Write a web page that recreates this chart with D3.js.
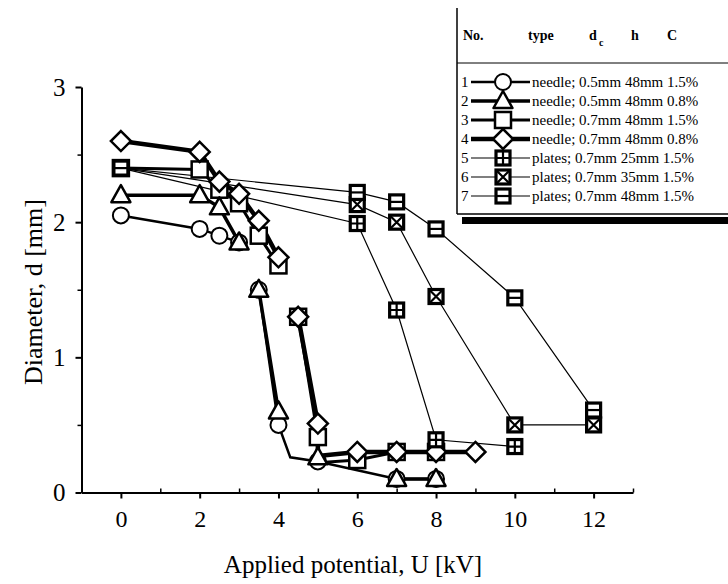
<!DOCTYPE html>
<html>
<head>
<meta charset="utf-8">
<script src="https://cdn.jsdelivr.net/npm/d3@7"></script>
<style>
body { margin: 0; background: #fff; }
svg { display: block; font-family: "Liberation Serif", "Times New Roman", serif; }
</style>
</head>
<body>
<div id="chart"></div>
<script>
const xTicks = [0, 2, 4, 6, 8, 10, 12];
const xMinor = [-1, 1, 3, 5, 7, 9, 11, 13];
const yTicks = [0, 1, 2, 3];
const yMinor = [0.5, 1.5, 2.5];

// [U, d] points, null breaks the line, a third value false = bend with no marker
const needle1 = [[0, 2.05], [2, 1.95], [2.5, 1.9], [3, 1.85], null, [3.5, 1.5], [4, 0.5], [4.3, 0.26, false], [5, 0.23], [7, 0.1], [8, 0.1]];
const needle2 = [[0, 2.2], [2, 2.2], [2.5, 2.11], [3, 1.85], null, [3.5, 1.5], [4, 0.6], null, [5, 0.26], null, [7, 0.1], [8, 0.1]];
const needle3 = [[0, 2.4], [2, 2.39], [2.5, 2.24], [3, 2.14], [3.5, 1.9], [4, 1.68], null, [4.5, 1.3], [5, 0.41], [5, 0.22, false], [6, 0.24], [7, 0.3], [8, 0.3]];
const needle4 = [[0, 2.6], [2, 2.52], [2.5, 2.3], [3, 2.21], [3.5, 2.01], [4, 1.74], null, [4.5, 1.3], [5, 0.51], [5, 0.27, false], [6, 0.3], [7, 0.3], [8, 0.3], [9, 0.3]];
const plates5 = [[0, 2.4], [6, 1.99], [7, 1.35], [8, 0.39], [10, 0.34]];
const plates6 = [[0, 2.4], [6, 2.13], [7, 2.0], [8, 1.45], [10, 0.5], [12, 0.5]];
const plates7 = [[0, 2.4], [6, 2.22], [7, 2.15], [8, 1.95], [10, 1.44], [12, 0.61]];

const legendNo = ['1', '2', '3', '4', '5', '6', '7'];
const legendText = [
  'needle; 0.5mm 48mm 1.5%',
  'needle; 0.5mm 48mm 0.8%',
  'needle; 0.7mm 48mm 1.5%',
  'needle; 0.7mm 48mm 0.8%',
  'plates; 0.7mm 25mm 1.5%',
  'plates; 0.7mm 35mm 1.5%',
  'plates; 0.7mm 48mm 1.5%'
];
const legendHead = ['No.', 'type', 'd', 'h', 'C'];

const width = 728;
const height = 584;

const series = [
  { data: plates5, marker: 'plus', lw: 1.2 },
  { data: plates6, marker: 'cross', lw: 1.2 },
  { data: plates7, marker: 'bar', lw: 1.2 },
  { data: needle3, marker: 'square', lw: 3 },
  { data: needle4, marker: 'diamond', lw: 4.5 },
  { data: needle1, marker: 'circle', lw: 2.5 },
  { data: needle2, marker: 'triangle', lw: 3.5 }
];
// legend order 1..7
const legendSeries = [series[5], series[6], series[3], series[4], series[0], series[1], series[2]];

const svg = d3.select('#chart').append('svg')
  .attr('width', width)
  .attr('height', height);

const x = d3.scaleLinear().domain([-1, 13]).range([81.5, 633]);
const y = d3.scaleLinear().domain([0, 3]).range([492.5, 87]);

function drawMarker(g, type) {
  g.attr('fill', '#fff').attr('stroke', '#000');
  if (type === 'circle') {
    g.append('circle').attr('r', 8).attr('stroke-width', 2);
  } else if (type === 'triangle') {
    g.append('path').attr('d', 'M0,-10L9.5,7L-9.5,7Z').attr('stroke-width', 2.5).attr('stroke-linejoin', 'round');
  } else if (type === 'square') {
    g.append('rect').attr('x', -8).attr('y', -8).attr('width', 16).attr('height', 16).attr('stroke-width', 2.5);
  } else if (type === 'diamond') {
    g.append('path').attr('d', 'M0,-10L10,0L0,10L-10,0Z').attr('stroke-width', 2.5);
  } else {
    g.append('rect').attr('x', -7).attr('y', -7).attr('width', 14).attr('height', 14).attr('stroke-width', 3.2);
    const inner = g.append('path').attr('stroke-width', 2.2).attr('fill', 'none');
    if (type === 'plus') inner.attr('d', 'M0,-7V7M-7,0H7');
    if (type === 'cross') inner.attr('d', 'M-6,-6L6,6M6,-6L-6,6');
    if (type === 'bar') inner.attr('d', 'M-7,0H7');
  }
}

// axes
const xAxis = d3.axisBottom(x).tickValues(xTicks).tickSize(6).tickSizeOuter(0).tickPadding(11);
const gx = svg.append('g')
  .attr('transform', `translate(0,${y(0)})`)
  .call(xAxis);
gx.select('.domain').attr('stroke-width', 2);
gx.selectAll('.tick line').attr('stroke-width', 2);
gx.selectAll('.tick text').attr('font-size', 24).attr('font-family', 'Liberation Serif');

const xMinorAxis = d3.axisBottom(x).tickValues(xMinor).tickSize(-4).tickSizeOuter(0).tickFormat('');
const gxm = svg.append('g')
  .attr('transform', `translate(0,${y(0)})`)
  .call(xMinorAxis);
gxm.select('.domain').remove();
gxm.selectAll('.tick line').attr('stroke-width', 1.5);

const yAxis = d3.axisLeft(y).tickValues(yTicks).tickSize(6).tickSizeOuter(0).tickPadding(10).tickFormat(d3.format('d'));
const gy = svg.append('g')
  .attr('transform', `translate(${x(-1)},0)`)
  .call(yAxis);
gy.select('.domain').attr('stroke-width', 2);
gy.selectAll('.tick line').attr('stroke-width', 2);
gy.selectAll('.tick text').attr('font-size', 25).attr('font-family', 'Liberation Serif');

const yMinorAxis = d3.axisLeft(y).tickValues(yMinor).tickSize(4).tickSizeOuter(0).tickFormat('');
const gym = svg.append('g')
  .attr('transform', `translate(${x(-1)},0)`)
  .call(yMinorAxis);
gym.select('.domain').remove();
gym.selectAll('.tick line').attr('stroke-width', 1.5);

// axis titles
svg.append('text')
  .attr('x', 353).attr('y', 573)
  .attr('text-anchor', 'middle')
  .attr('font-size', 25)
  .text('Applied potential, U [kV]');

svg.append('text')
  .attr('transform', 'translate(42,292) rotate(-90)')
  .attr('text-anchor', 'middle')
  .attr('font-size', 26)
  .text('Diameter, d [mm]');

// lines
const line = d3.line()
  .defined(d => d !== null)
  .x(d => x(d[0]))
  .y(d => y(d[1]));

const plot = svg.append('g');
series.forEach(s => {
  plot.append('path')
    .attr('fill', 'none')
    .attr('stroke', '#000')
    .attr('stroke-width', s.lw)
    .attr('d', line(s.data));
});

// markers: needles first, plates on top
const markerOrder = [series[3], series[4], series[5], series[6], series[0], series[1], series[2]];
markerOrder.forEach(s => {
  s.data.filter(d => d !== null && d[2] !== false).forEach(d => {
    const g = plot.append('g').attr('transform', `translate(${x(d[0])},${y(d[1])})`);
    drawMarker(g, s.marker);
  });
});

// legend
const lg = svg.append('g');
const boxL = 457, boxB = 214;
lg.append('line').attr('x1', boxL).attr('x2', boxL).attr('y1', 8).attr('y2', boxB).attr('stroke', '#000').attr('stroke-width', 1.5);
lg.append('line').attr('x1', boxL).attr('x2', width).attr('y1', boxB).attr('y2', boxB).attr('stroke', '#000').attr('stroke-width', 1.5);
lg.append('rect').attr('x', boxL + 5).attr('y', boxB + 3).attr('width', width - boxL - 5).attr('height', 7).attr('fill', '#000');
lg.append('line').attr('x1', boxL).attr('x2', width).attr('y1', 63).attr('y2', 63).attr('stroke', '#000').attr('stroke-width', 1);

const headX = [463, 528, 589, 631, 667];
legendHead.forEach((t, i) => {
  lg.append('text')
    .attr('x', headX[i]).attr('y', 40)
    .attr('font-size', 14).attr('font-weight', 'bold')
    .text(t);
});
lg.append('text').attr('x', 599).attr('y', 46).attr('font-size', 10).attr('font-weight', 'bold').text('c');

legendSeries.forEach((s, i) => {
  const cy = 82 + i * 19;
  lg.append('text')
    .attr('x', 461).attr('y', cy + 5)
    .attr('font-size', 15)
    .text(legendNo[i]);
  lg.append('line').attr('x1', 471).attr('x2', 530).attr('y1', cy).attr('y2', cy)
    .attr('stroke', '#000').attr('stroke-width', s.lw);
  const g = lg.append('g').attr('transform', `translate(503,${cy})`);
  drawMarker(g, s.marker);
  lg.append('text')
    .attr('x', 532).attr('y', cy + 5)
    .attr('font-size', 15)
    .text(legendText[i]);
});
</script>
</body>
</html>
